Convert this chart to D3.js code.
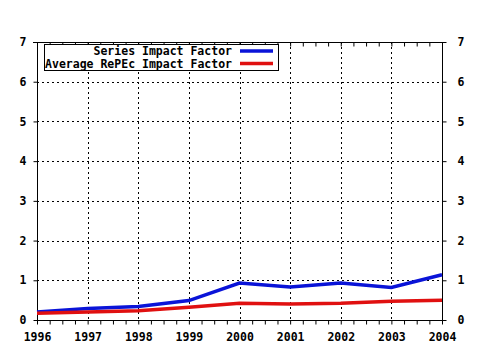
<!DOCTYPE html>
<html><head><meta charset="utf-8">
<script src="https://cdn.jsdelivr.net/npm/d3@7"></script>
<style>
body{margin:0;background:#fff;}
text{font-family:"DejaVu Sans Mono","Liberation Mono",monospace;font-weight:bold;font-size:11.5px;fill:#000;}
</style></head>
<body><svg id="c" width="480" height="350"></svg>
<script>
const years = [1996,1997,1998,1999,2000,2001,2002,2003,2004];
const seriesIF = [0.20,0.29,0.34,0.49,0.93,0.83,0.93,0.82,1.14];
const avgIF = [0.17,0.20,0.23,0.32,0.42,0.40,0.42,0.47,0.50];
const yTicks = [0,1,2,3,4,5,6,7];
const seriesNames = ["Series Impact Factor","Average RePEc Impact Factor"];
const colors = ["#0a14d8","#e01010"];

const svg = d3.select("#c");
const L=37,R=442,T=42,B=320;
const x = d3.scaleLinear().domain([1996,2004]).range([L,R]);
const y = d3.scaleLinear().domain([0,7]).range([B,T]);

// grid
const g = svg.append("g");
years.slice(1,-1).forEach(v=>{
  g.append("line").attr("x1",Math.round(x(v))+0.5).attr("x2",Math.round(x(v))+0.5).attr("y1",T).attr("y2",B)
   .attr("stroke","#000").attr("stroke-width",1).attr("stroke-dasharray","2,3");
});
yTicks.slice(1,-1).forEach(v=>{
  g.append("line").attr("x1",L).attr("x2",R).attr("y1",Math.round(y(v))+0.5).attr("y2",Math.round(y(v))+0.5)
   .attr("stroke","#000").attr("stroke-width",1).attr("stroke-dasharray","2,3");
});

// axes
const minor = d3.range(1996,2004.001,0.25);
svg.append("g").attr("transform",`translate(0,${B+0.5})`)
  .call(d3.axisBottom(x).tickValues(minor).tickSize(4).tickFormat(""))
  .call(a=>a.select(".domain").remove());
svg.append("g").attr("transform",`translate(0,${T+0.5})`)
  .call(d3.axisBottom(x).tickValues(minor).tickSize(4).tickFormat(""))
  .call(a=>a.select(".domain").remove());
const xa = svg.append("g").attr("transform",`translate(0,${B+0.5})`)
  .call(d3.axisBottom(x).tickValues(years).tickFormat(d3.format("d")).tickSize(0).tickPadding(12));
xa.select(".domain").remove();

const ya = svg.append("g").attr("transform",`translate(${L+0.5},0)`)
  .call(d3.axisLeft(y).tickValues(yTicks).tickFormat(d3.format("d")).tickSize(4).tickPadding(7));
ya.select(".domain").remove();
const yb = svg.append("g").attr("transform",`translate(${R+0.5},0)`)
  .call(d3.axisRight(y).tickValues(yTicks).tickFormat(d3.format("d")).tickSize(4).tickPadding(11));
yb.select(".domain").remove();
svg.selectAll(".tick line").attr("stroke","#000");
svg.selectAll(".tick text").attr("fill","#000").style("font-size","11.5px");

// frame lines
svg.append("line").attr("x1",L+0.5).attr("x2",L+0.5).attr("y1",T).attr("y2",B+4).attr("stroke","#000");
svg.append("line").attr("x1",R+0.5).attr("x2",R+0.5).attr("y1",T).attr("y2",B+4).attr("stroke","#000");
svg.append("line").attr("x1",L-4).attr("x2",R+4).attr("y1",T+0.5).attr("y2",T+0.5).attr("stroke","#000");
svg.append("line").attr("x1",L).attr("x2",R).attr("y1",B+0.5).attr("y2",B+0.5).attr("stroke","#000");

// lines
const line = d3.line().x((d,i)=>x(years[i])).y(d=>y(d));
[seriesIF,avgIF].forEach((s,k)=>{
  svg.append("path").datum(s).attr("d",line).attr("fill","none")
    .attr("stroke",colors[k]).attr("stroke-width",3.5);
});

// legend
svg.append("rect").attr("x",44.5).attr("y",44.5).attr("width",234).attr("height",26)
  .attr("fill","#fff").attr("stroke","#000");
seriesNames.forEach((n,k)=>{
  const yy = 51 + k*12.5;
  svg.append("text").attr("x",232).attr("y",yy+4).attr("text-anchor","end").text(n);
  svg.append("line").attr("x1",240).attr("x2",273).attr("y1",yy).attr("y2",yy)
    .attr("stroke",colors[k]).attr("stroke-width",3.5);
});
</script></body></html>
